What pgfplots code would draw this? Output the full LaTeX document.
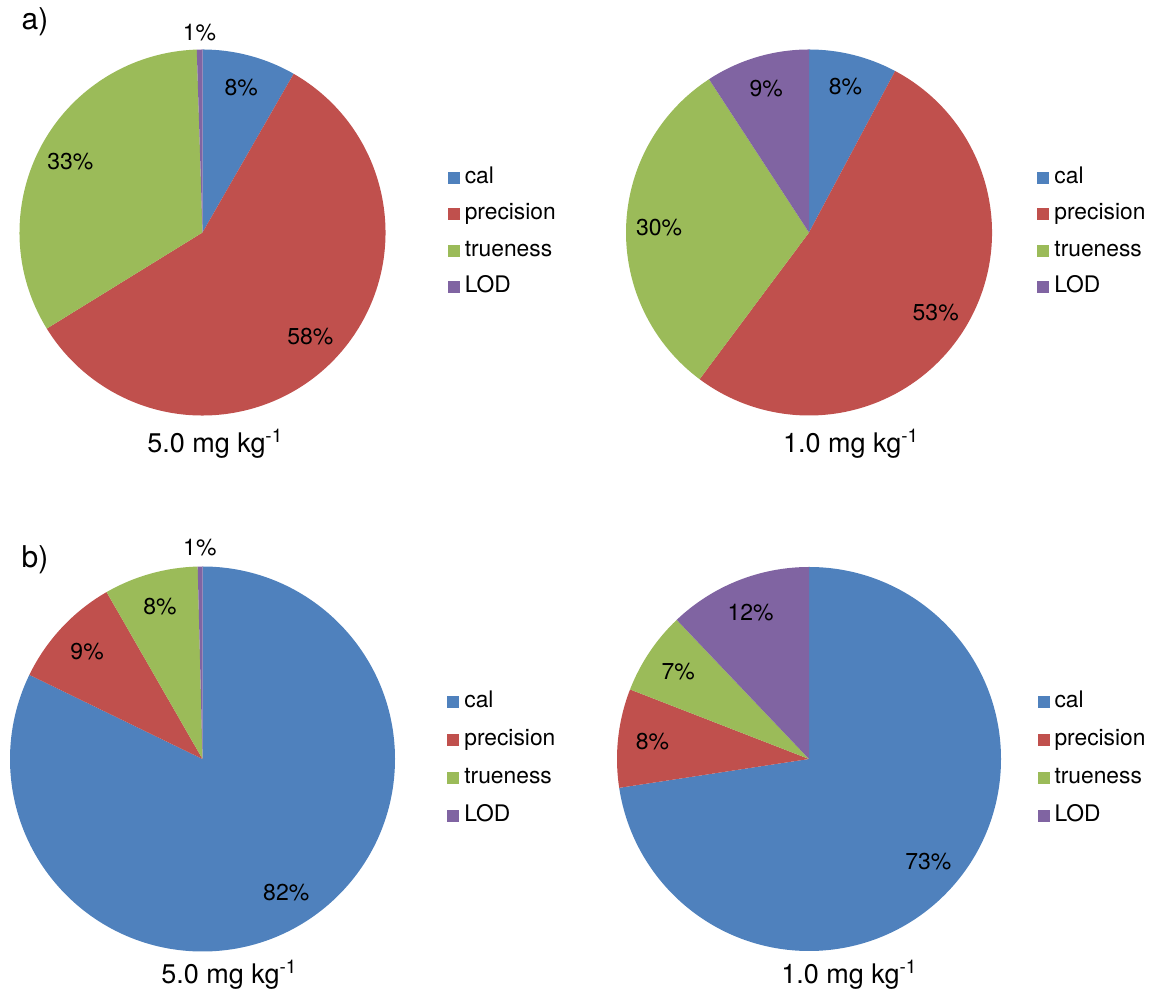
\documentclass[border=0pt]{standalone}
\usepackage{pgfplots}
\usepackage{pgfplotstable}
\pgfplotsset{compat=1.18}
\usepackage{fontspec}
\setmainfont{TeX Gyre Heros}

\definecolor{piecal}{HTML}{4F81BD}
\definecolor{piepre}{HTML}{C0504D}
\definecolor{pietru}{HTML}{9BBB59}
\definecolor{pielod}{HTML}{8064A2}

% share of each part (percent), label text, label distance (in radii)
\pgfplotstableread{
name      value col    pct lr
cal       8.3   piecal 8   0.82
precision 57.9  piepre 58  0.82
trueness  33.3  pietru 33  0.82
LOD       0.5   pielod 1   1.09
}\dataAL
\pgfplotstableread{
name      value col    pct lr
cal       7.8   piecal 8   0.82
precision 52.4  piepre 53  0.82
trueness  30.6  pietru 30  0.82
LOD       9.2   pielod 9   0.82
}\dataAR
\pgfplotstableread{
name      value col    pct lr
cal       82.2  piecal 82  0.82
precision 9.5   piepre 9   0.82
trueness  7.9   pietru 8   0.82
LOD       0.4   pielod 1   1.10
}\dataBL
\pgfplotstableread{
name      value col    pct lr
cal       72.6  piecal 73  0.82
precision 8.3   piepre 8   0.82
trueness  7.0   pietru 7   0.82
LOD       12.1  pielod 12  0.82
}\dataBR

% wedges clockwise from 12 o'clock; #2 = radius in pt (same as x unit)
\newcommand{\drawpie}[2]{%
  \pgfplotstablegetrowsof{#1}%
  \pgfmathtruncatemacro{\lastrow}{\pgfplotsretval-1}%
  \gdef\startang{90}%
  \pgfplotsforeachungrouped \i in {0,...,\lastrow}{%
    \pgfplotstablegetelem{\i}{value}\of{#1}\let\val\pgfplotsretval
    \pgfplotstablegetelem{\i}{col}\of{#1}\let\col\pgfplotsretval
    \pgfplotstablegetelem{\i}{pct}\of{#1}\let\pct\pgfplotsretval
    \pgfplotstablegetelem{\i}{lr}\of{#1}\let\lr\pgfplotsretval
    \pgfmathsetmacro{\endang}{\startang-3.6*\val}%
    \pgfmathsetmacro{\midang}{(\startang+\endang)/2}%
    \edef\wedge{%
      \noexpand\fill[fill=\col] (axis cs:0,0) -- (axis cs:{cos(\startang)},{sin(\startang)})
        arc[start angle=\startang, end angle=\endang, radius=#2pt] -- cycle;
      \noexpand\node[pctlabel] at (axis cs:{\lr*cos(\midang)},{\lr*sin(\midang)}) {\pct\noexpand\%};}%
    \wedge
    \global\let\startang\endang
  }%
}

\pgfplotsset{
  pie/.style={
    hide axis, clip=false, anchor=origin,
    xmin=-1, xmax=1, ymin=-1, ymax=1,
    legend cell align=left,
    legend image code/.code={\fill[##1, draw=none] (0pt,-3pt) rectangle (6pt,3pt);},
    legend style={anchor=west, draw=none, fill=none, inner sep=0pt,
      font=\fontsize{11.4}{13}\selectfont,
      nodes={inner sep=0pt, text height=8pt, text depth=2.5pt},
      column sep=2.5pt},
  },
}
\tikzset{
  pctlabel/.style={font=\fontsize{11.5}{13}\selectfont},
  sublabel/.style={font=\fontsize{13.5}{15}\selectfont},
}

\newcommand{\pielegend}{%
  \addlegendimage{fill=piecal, draw=none}\addlegendentry{cal}
  \addlegendimage{fill=piepre, draw=none}\addlegendentry{precision}
  \addlegendimage{fill=pietru, draw=none}\addlegendentry{trueness}
  \addlegendimage{fill=pielod, draw=none}\addlegendentry{LOD}
}

\begin{document}
\begin{tikzpicture}
\useasboundingbox (0,0) rectangle (575pt,497pt);

\node[font=\fontsize{15}{17}\selectfont] at (17.5pt,486pt) {a)};
\node[font=\fontsize{15}{17}\selectfont] at (17.5pt,217pt) {b)};

\begin{axis}[pie, x=91.5pt, y=91.5pt, at={(101.25pt,380.75pt)},
  legend style={at={(1.169,0.5)}, row sep=7.8pt}]
  \pielegend
  \drawpie{\dataAL}{91.5}
  \node[sublabel] at (axis cs:0.07,-1.153) {5.0 mg kg\textsuperscript{-1}};
\end{axis}

\begin{axis}[pie, x=91.5pt, y=91.5pt, at={(404.5pt,380.75pt)},
  legend style={at={(1.123,0.5)}, row sep=7.8pt}]
  \pielegend
  \drawpie{\dataAR}{91.5}
  \node[sublabel] at (axis cs:0.23,-1.153) {1.0 mg kg\textsuperscript{-1}};
\end{axis}

\begin{axis}[pie, x=96.25pt, y=96.25pt, at={(101.25pt,117.5pt)},
  legend style={at={(1.135,0.5)}, row sep=8.5pt}]
  \pielegend
  \drawpie{\dataBL}{96.25}
  \node[sublabel] at (axis cs:0.14,-1.122) {5.0 mg kg\textsuperscript{-1}};
\end{axis}

\begin{axis}[pie, x=96pt, y=96pt, at={(404.5pt,117.5pt)},
  legend style={at={(1.094,0.5)}, row sep=8.5pt}]
  \pielegend
  \drawpie{\dataBR}{96}
  \node[sublabel] at (axis cs:0.21,-1.125) {1.0 mg kg\textsuperscript{-1}};
\end{axis}
\end{tikzpicture}
\end{document}
